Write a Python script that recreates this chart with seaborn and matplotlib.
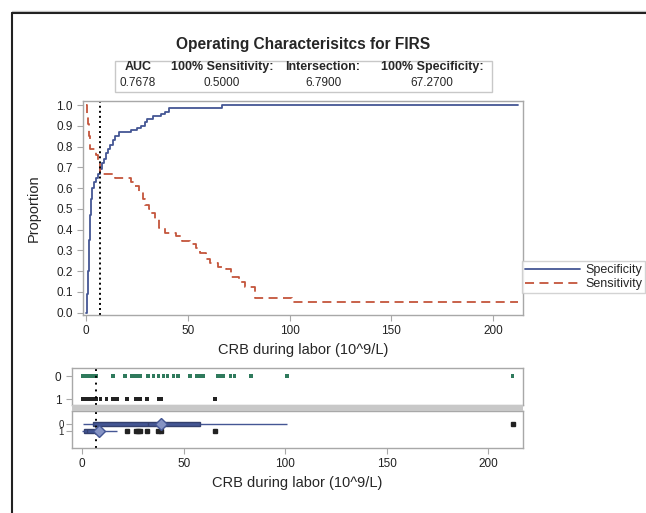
import matplotlib
matplotlib.use("Agg")
import matplotlib.pyplot as plt
from matplotlib.lines import Line2D
from matplotlib.patches import Rectangle
import numpy as np
import pandas as pd
import seaborn as sns

sns.set_style("ticks")
plt.rcParams["font.family"] = ["Liberation Sans", "DejaVu Sans"]

# ---- data ----
title = "Operating Characterisitcs for FIRS"
stat_names = ["AUC", "100% Sensitivity:", "Intersection:", "100% Specificity:"]
stat_values = ["0.7678", "0.5000", "6.7900", "67.2700"]
intersection = 6.79

spec_x = [0, 0.5, 1, 1.5, 2, 2.5, 3, 4, 5, 6, 7, 8, 9, 10, 11, 12, 13, 14, 16,
          22, 25, 27, 29, 30, 33, 37, 39, 41, 67, 212]
spec_y = [0.0, 0.09, 0.2, 0.35, 0.47, 0.55, 0.6, 0.63, 0.65, 0.67, 0.69, 0.72, 0.74,
          0.77, 0.79, 0.81, 0.83, 0.85, 0.87, 0.88, 0.89, 0.9, 0.92, 0.935, 0.95,
          0.955, 0.965, 0.985, 1.0, 1.0]

sens_x = [0, 0.5, 1, 1.5, 2, 5, 6, 7, 14, 22, 24, 26, 28, 29, 31, 32, 34, 36, 39,
          44, 47, 51, 54, 56, 59, 61, 65, 69, 71, 75, 78, 83, 101, 212]
sens_y = [1.0, 0.95, 0.91, 0.85, 0.79, 0.76, 0.72, 0.67, 0.65, 0.63, 0.61, 0.58,
          0.55, 0.52, 0.5, 0.48, 0.45, 0.41, 0.385, 0.37, 0.345, 0.33, 0.31, 0.29,
          0.26, 0.24, 0.22, 0.21, 0.17, 0.15, 0.125, 0.07, 0.05, 0.05]

crb_group0 = [0.3, 0.6, 0.9, 1.2, 1.5, 1.8, 2.2, 3.5, 4.8, 5.5, 6.2, 7.0, 15, 21,
              24.6, 26, 27.5, 28.5, 32.5, 35, 37.5, 40, 42, 45, 47, 53, 56.6, 58,
              59.6, 67, 68.5, 69.5, 73, 75, 83, 101, 212]
crb_group1 = [0.1, 0.15, 0.2, 0.25, 0.3, 0.35, 0.4, 0.45, 0.5, 0.6, 0.7, 0.8, 0.9,
              1.0, 1.1, 1.2, 1.3, 1.4, 1.5, 1.6, 1.7, 1.8, 1.9, 2.0, 2.2, 2.4, 2.6,
              2.8, 3.0, 3.5, 4.0, 4.5, 5.0, 5.5, 6.0, 7, 9, 12, 15, 17,
              22, 26.5, 27.5, 28.5, 32, 37.5, 39, 65.5]

blue = "#445694"
red = "#c4553c"
W, H = 646, 513

curves = pd.concat([
    pd.DataFrame({"crb": spec_x, "prop": spec_y, "curve": "Specificity"}),
    pd.DataFrame({"crb": sens_x, "prop": sens_y, "curve": "Sensitivity"}),
])
pts = pd.concat([
    pd.DataFrame({"crb": crb_group0, "group": "0"}),
    pd.DataFrame({"crb": crb_group1, "group": "1"}),
])
pts["gnum"] = pts["group"].astype(int)

fig = plt.figure(figsize=(W / 100, H / 100), dpi=100)

def fr(l, t, r, b):
    return [l / W, 1 - b / H, (r - l) / W, (b - t) / H]

ax = fig.add_axes(fr(83, 101, 523, 315))
ax_pts = fig.add_axes(fr(72, 368, 523, 405))
ax_box = fig.add_axes(fr(72, 411, 523, 448))

# main step curves
sns.lineplot(data=curves, x="crb", y="prop", hue="curve", style="curve",
             palette={"Specificity": blue, "Sensitivity": red},
             dashes={"Specificity": "", "Sensitivity": (5, 3)},
             drawstyle="steps-post", estimator=None, sort=False,
             linewidth=1.3, ax=ax)
ax.axvline(intersection, color="black", ls=(0, (1, 1.6)), lw=1.4)
ax.set_xlim(-1.5, 214.7)
ax.set_ylim(-0.011, 1.02)
ax.set_yticks(np.arange(0, 1.01, 0.1))
ax.set_yticklabels([f"{v:.1f}" for v in np.arange(0, 1.01, 0.1)])
ax.set_xticks([0, 50, 100, 150, 200])
ax.set_xlabel("CRB during labor (10^9/L)", fontsize=10.5, labelpad=4)
ax.set_ylabel("Proportion", fontsize=10.5, labelpad=11)
handles, labels = ax.get_legend_handles_labels()
keep = [i for i, l in enumerate(labels) if l in ("Specificity", "Sensitivity")]
ax.legend([handles[i] for i in keep], [labels[i] for i in keep],
          loc="upper left", bbox_to_anchor=(522 / W, 1 - 261 / H),
          bbox_transform=fig.transFigure, fontsize=9, frameon=True,
          fancybox=False, edgecolor="#c8c8c8", handlelength=4.4,
          borderaxespad=0, borderpad=0.25, labelspacing=0.15, handletextpad=0.4)

# points by group
sns.scatterplot(data=pts, x="crb", y="gnum", hue="group",
                palette={"0": "#2f7a5c", "1": "#222222"}, marker="s", s=7,
                edgecolor="none", legend=False, ax=ax_pts)
ax_pts.axvline(intersection, color="black", ls=(0, (1, 2.5)), lw=1.4)
ax_pts.set_xlim(-5.07, 217.1)
ax_pts.set_ylim(1.26, -0.35)
ax_pts.set_yticks([0, 1])
ax_pts.set_yticklabels(["0", "1"])
ax_pts.tick_params(axis="x", bottom=False, labelbottom=False)
ax_pts.set_xlabel("")
ax_pts.set_ylabel("")

# box plots by group
sns.boxplot(data=pts, x="crb", y="group", order=["0", "1"], orient="h",
            width=0.6, color=blue, saturation=1, linecolor="#34406e",
            linewidth=1, showcaps=False, showmeans=True,
            meanprops=dict(marker="D", markerfacecolor="#8593c4",
                           markeredgecolor=blue, markersize=6),
            flierprops=dict(marker="s", markersize=2.5, markerfacecolor="#222222",
                            markeredgecolor="#222222"),
            whiskerprops=dict(color=blue), ax=ax_box)
ax_box.axvline(intersection, color="black", ls=(0, (1, 2.5)), lw=1.4)
ax_box.set_xlim(-5.07, 217.1)
ax_box.set_ylim(3.43, -1.86)
ax_box.set_xticks([0, 50, 100, 150, 200])
ax_box.set_xlabel("CRB during labor (10^9/L)", fontsize=10.5, labelpad=4)
ax_box.set_ylabel("")

for a in (ax, ax_pts, ax_box):
    for s in a.spines.values():
        s.set_visible(True)
        s.set_color("#a8a8a8")
        s.set_linewidth(1)
    a.tick_params(direction="out", length=4, color="#a8a8a8", labelsize=8.5,
                  labelcolor="#222222")
ax_box.tick_params(axis="y", labelsize=7, pad=2)

# title and statistics table
fig.text(303 / W, 1 - 45 / H, title, ha="center", va="center",
         fontsize=11.2, fontweight="bold")
col_x = [138, 222, 323, 432]
for cx, name, val in zip(col_x, stat_names, stat_values):
    fig.text(cx / W, 1 - 67 / H, name, ha="center", va="center",
             fontsize=9, fontweight="bold")
    fig.text(cx / W, 1 - 83 / H, val, ha="center", va="center", fontsize=8.5)
fig.add_artist(Rectangle((115 / W, 1 - 92 / H), 377 / W, 31 / H,
                         transform=fig.transFigure, fill=False,
                         ec="#c8c8c8", lw=1))

# grey band between the two lower panels and the outer frame
fig.add_artist(Rectangle((72 / W, 1 - 411 / H), 451 / W, 6 / H,
                         transform=fig.transFigure, color="#c8c8c8", lw=0))
fig.add_artist(Line2D([11.7 / W, 1], [1 - 11 / H] * 2, color="#c8c8c8",
                      lw=1, transform=fig.transFigure))
fig.add_artist(Line2D([11.7 / W, 1], [1 - 12.7 / H] * 2, color="#222222",
                      lw=1.5, transform=fig.transFigure))
fig.add_artist(Line2D([11.7 / W] * 2, [0, 1 - 12.7 / H], color="#222222",
                      lw=1.5, transform=fig.transFigure))

fig.savefig("out.png", dpi=100)
